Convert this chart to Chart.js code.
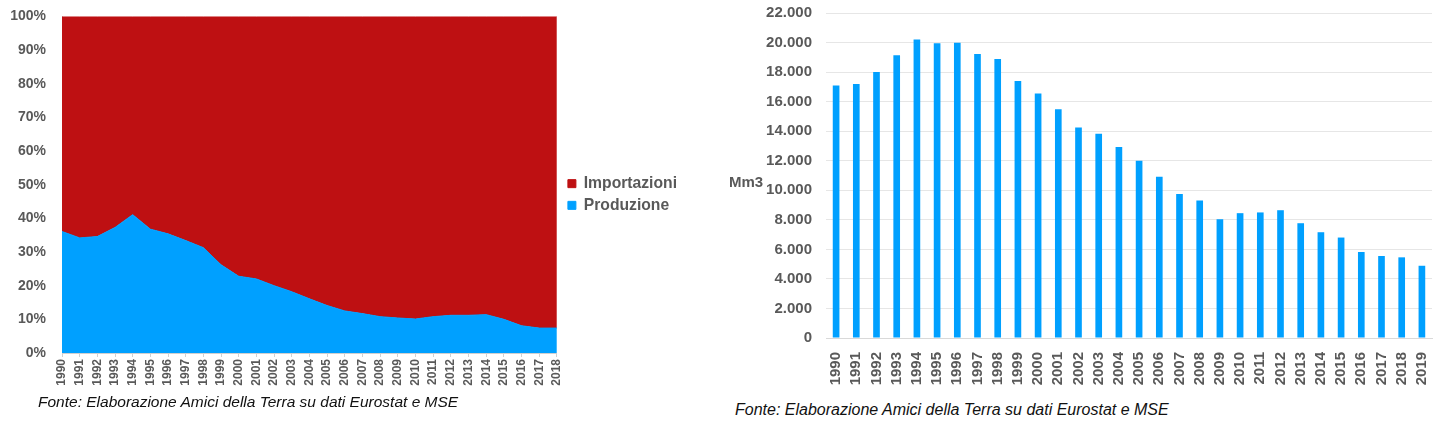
<!DOCTYPE html>
<html>
<head>
<meta charset="utf-8">
<script src="https://cdn.jsdelivr.net/npm/chart.js@4/dist/chart.umd.min.js"></script>
<style>
  body { margin: 0; background: #fff; width: 1447px; height: 428px; position: relative; overflow: hidden; font-family: "Liberation Sans", Arial, sans-serif; }
  .box { position: absolute; }
  .note { position: absolute; font-style: italic; color: #111; white-space: nowrap; }
  #mm3 { position: absolute; left: 729px; top: 173px; font-weight: bold; font-size: 15px; color: #595959; }
</style>
</head>
<body>
<div class="box" style="left:0;top:0;width:690px;height:400px"><canvas id="quota-chart"></canvas></div>
<div class="box" style="left:720px;top:0;width:727px;height:400px"><canvas id="prod-chart"></canvas></div>
<div id="mm3">Mm3</div>
<div class="note" style="left:38px;top:393px;font-size:15.5px">Fonte: Elaborazione Amici della Terra su dati Eurostat e MSE</div>
<div class="note" style="left:735px;top:401px;font-size:16px">Fonte: Elaborazione Amici della Terra su dati Eurostat e MSE</div>
<script>
// quota produzione / importazioni (%), 1990-2018
const anniQuota = ['1990','1991','1992','1993','1994','1995','1996','1997','1998','1999','2000','2001','2002','2003','2004','2005','2006','2007','2008','2009','2010','2011','2012','2013','2014','2015','2016','2017','2018'];
const produzionePct = [36.1, 34.2, 34.6, 37.3, 41.1, 36.8, 35.4, 33.4, 31.3, 26.2, 22.8, 22.0, 20.0, 18.2, 16.1, 14.1, 12.5, 11.7, 10.8, 10.4, 10.1, 10.8, 11.2, 11.2, 11.4, 10.0, 8.1, 7.4, 7.4];
const importazioniPct = [63.9, 65.8, 65.4, 62.7, 58.9, 63.2, 64.6, 66.6, 68.7, 73.8, 77.2, 78.0, 80.0, 81.8, 83.9, 85.9, 87.5, 88.3, 89.2, 89.6, 89.9, 89.2, 88.8, 88.8, 88.6, 90.0, 91.9, 92.6, 92.6];

// produzione nazionale di gas (Mm3), 1990-2019
const anniProd = ['1990','1991','1992','1993','1994','1995','1996','1997','1998','1999','2000','2001','2002','2003','2004','2005','2006','2007','2008','2009','2010','2011','2012','2013','2014','2015','2016','2017','2018','2019'];
const produzioneMm3 = [17100, 17200, 18000, 19140, 20200, 19950, 19980, 19230, 18890, 17390, 16550, 15480, 14250, 13820, 12930, 12000, 10910, 9740, 9310, 8040, 8450, 8500, 8650, 7770, 7160, 6800, 5820, 5550, 5460, 4890];

const ROSSO = '#BE1012';
const BLU = '#00A0FF';
const GRIGIO = '#595959';
const FAMIGLIA = '"Liberation Sans", Arial, sans-serif';

function migliaia(v) {
  return String(v).replace(/\B(?=(\d{3})+(?!\d))/g, '.');
}

// sposta la legenda un po' a destra e verso l'alto, come nell'originale
const spostaLegenda = {
  id: 'spostaLegenda',
  afterLayout(chart) {
    const lg = chart.legend;
    if (!lg) return;
    lg.left += 5; lg.right += 5;
    lg.top -= 12; lg.bottom -= 12;
  }
};

new Chart(document.getElementById('quota-chart').getContext('2d'), {
  type: 'line',
  data: {
    labels: anniQuota,
    datasets: [
      {
        label: 'Produzione',
        data: produzionePct,
        backgroundColor: BLU,
        borderColor: BLU,
        borderWidth: 1,
        pointRadius: 0,
        fill: 'origin',
        tension: 0
      },
      {
        label: 'Importazioni',
        data: importazioniPct,
        backgroundColor: ROSSO,
        borderColor: ROSSO,
        borderWidth: 1,
        pointRadius: 0,
        fill: '-1',
        tension: 0
      }
    ]
  },
  plugins: [spostaLegenda],
  options: {
    responsive: true,
    maintainAspectRatio: false,
    animation: false,
    layout: { padding: { top: 13, right: 8, bottom: 0, left: 0 } },
    plugins: {
      legend: {
        position: 'right',
        reverse: true,
        labels: {
          boxWidth: 8, boxHeight: 8, padding: 6,
          color: GRIGIO,
          font: { family: FAMIGLIA, weight: 'bold', size: 15.7 }
        }
      },
      tooltip: { enabled: false }
    },
    scales: {
      x: {
        offset: false,
        grid: { display: true, drawOnChartArea: false, drawTicks: true, tickLength: 4, color: '#d0d0d0' },
        border: { color: '#d0d0d0' },
        ticks: { autoSkip: false, minRotation: 90, maxRotation: 90, color: GRIGIO, padding: 2, font: { family: FAMIGLIA, weight: 'bold', size: 12 } },
        afterFit: (s) => { s.height = 47; }
      },
      y: {
        stacked: true,
        min: 0, max: 100,
        grid: { display: false },
        border: { color: '#d0d0d0' },
        ticks: { stepSize: 10, color: GRIGIO, padding: 8, font: { family: FAMIGLIA, weight: 'bold', size: 14 }, callback: v => v + '%' },
        afterFit: (s) => { s.width = 62; }
      }
    }
  }
});

new Chart(document.getElementById('prod-chart').getContext('2d'), {
  type: 'bar',
  data: {
    labels: anniProd,
    datasets: [{
      label: 'Produzione',
      data: produzioneMm3,
      backgroundColor: BLU,
      barPercentage: 0.33,
      categoryPercentage: 1
    }]
  },
  options: {
    responsive: true,
    maintainAspectRatio: false,
    animation: false,
    layout: { padding: { top: 13, right: 15, bottom: 0, left: 0 } },
    plugins: {
      legend: { display: false },
      tooltip: { enabled: false }
    },
    scales: {
      x: {
        grid: { display: false },
        border: { color: '#d9d9d9' },
        ticks: { autoSkip: false, minRotation: 90, maxRotation: 90, color: GRIGIO, padding: 6, font: { family: FAMIGLIA, weight: 'bold', size: 15 } },
        afterFit: (s) => { s.height = 62; }
      },
      y: {
        min: 0, max: 22000,
        grid: { color: '#e6e6e6', drawTicks: false },
        border: { display: false },
        ticks: { stepSize: 2000, color: GRIGIO, padding: 14, font: { family: FAMIGLIA, weight: 'bold', size: 15 }, callback: v => migliaia(v) },
        afterFit: (s) => { s.width = 106; s.paddingTop = 0; }
      }
    }
  }
});
</script>
</body>
</html>
